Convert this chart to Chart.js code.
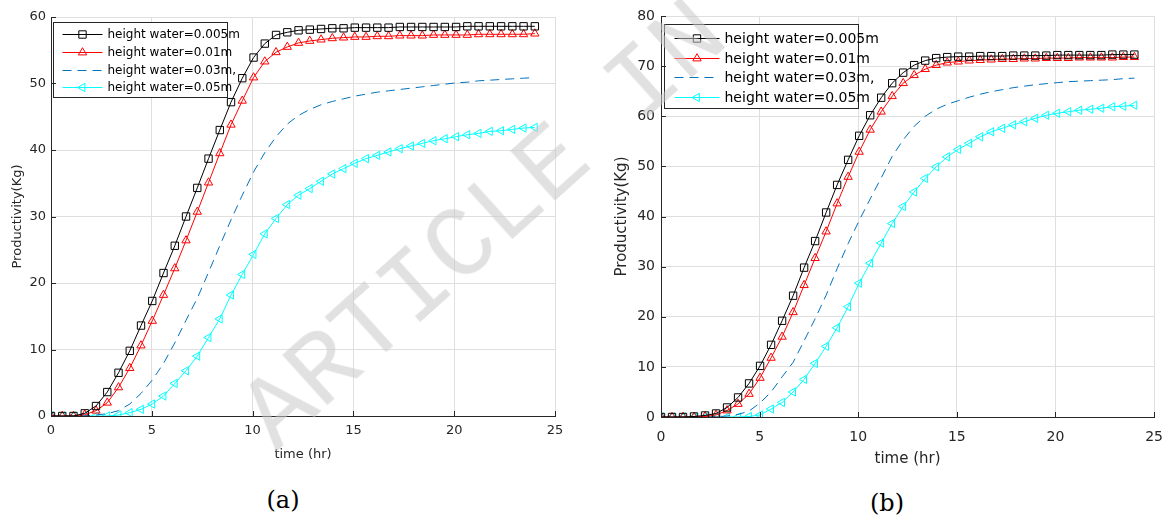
<!DOCTYPE html>
<html>
<head>
<meta charset="utf-8">
<script src="https://cdn.jsdelivr.net/npm/chart.js@4.4.1/dist/chart.umd.min.js"></script>
<style>
  html,body{margin:0;padding:0;background:#fff;}
  #wrap{position:relative;width:1175px;height:518px;overflow:hidden;background:#fff;}
  .cv{position:absolute;top:0;}
  .cap{position:absolute;font-family:"DejaVu Serif",serif;font-size:24px;color:#000;transform:translate(-50%,-50%);white-space:nowrap;}
  #wm{position:absolute;left:622px;top:104px;transform:translate(-50%,-50%) rotate(-42deg);font-family:"Liberation Mono","DejaVu Sans Mono",monospace;font-size:102px;line-height:1;color:rgba(200,200,200,0.55);white-space:nowrap;pointer-events:none;}
</style>
</head>
<body>
<div id="wrap">
  <canvas id="c1" class="cv" width="580" height="470" style="left:0px;width:580px;height:470px;"></canvas>
  <canvas id="c2" class="cv" width="585" height="475" style="left:590px;width:585px;height:475px;"></canvas>
  <div class="cap" style="left:283px;top:500px;">(a)</div>
  <div class="cap" style="left:887px;top:503px;">(b)</div>
  <div id="wm">ARTICLE IN PRESS</div>
</div>
<script>
// ---- data ----
const time = [0,0.558,1.116,1.674,2.233,2.791,3.349,3.907,4.465,5.023,5.581,6.140,6.698,7.256,7.814,8.372,8.930,9.488,10.047,10.605,11.163,11.721,12.279,12.837,13.395,13.953,14.512,15.070,15.628,16.186,16.744,17.302,17.860,18.419,18.977,19.535,20.093,20.651,21.209,21.767,22.326,22.884,23.442,24.000];
const seriesLabels = ["height water=0.005m","height water=0.01m","height water=0.03m,","height water=0.05m"];
const xTicks = [0,5,10,15,20,25];
const yTicksA = [0,10,20,30,40,50,60];
const yTicksB = [0,10,20,30,40,50,60,70,80];

// (a)
const aBlack = [0,0,0,0.4,1.5,3.6,6.5,9.8,13.6,17.3, 21.5,25.6,30.0,34.3,38.7,43.0,47.2,50.8,53.9,56.0, 57.3,57.7,58.0,58.1,58.2,58.3,58.3,58.4,58.4,58.4, 58.4,58.5,58.5,58.5,58.5,58.5,58.5,58.6,58.6,58.6, 58.6,58.6,58.6,58.6];
const aRed   = [0,0,0,0.2,0.8,2.0,4.3,7.2,10.6,14.3, 18.2,22.2,26.4,30.7,35.1,39.5,43.8,47.4,50.9,53.3, 54.7,55.5,56.1,56.4,56.6,56.8,56.9,57.0,57.0,57.1, 57.1,57.2,57.2,57.2,57.3,57.3,57.3,57.3,57.4,57.4, 57.4,57.4,57.4,57.5];
const aBlue  = [0,0,0,0.05,0.15,0.35,0.8,1.8,3.4,5.4, 7.9,11.0,14.4,17.7,21.6,25.6,29.5,33.2,36.7,39.6, 42.0,43.9,45.2,46.1,46.8,47.3,47.7,48.1,48.4,48.7, 48.9,49.1,49.3,49.5,49.7,49.9,50.1,50.2,50.4,50.5, 50.6,50.7,50.8,50.9];
const aCyan  = [0,0,0,0,0,0,0.15,0.5,1.0,1.8, 3.0,4.9,6.8,9.0,11.8,14.6,18.2,21.3,24.3,27.4, 29.7,31.8,33.2,34.2,35.3,36.4,37.2,38.0,38.7,39.2, 39.7,40.2,40.6,41.0,41.4,41.7,42.0,42.3,42.5,42.8, 42.9,43.1,43.3,43.4];
// (b)
const bBlack = [0,0,0,0.1,0.3,0.7,1.9,3.9,6.7,10.2, 14.4,19.2,24.2,29.8,35.1,40.8,46.3,51.3,56.1,60.2, 63.7,66.6,68.7,70.2,71.1,71.6,71.8,71.9,71.9,72.0, 72.0,72.0,72.1,72.1,72.1,72.1,72.2,72.2,72.2,72.2, 72.2,72.3,72.3,72.3];
const bRed   = [0,0,0,0,0.1,0.4,1.3,2.6,4.6,7.8, 11.8,16.0,20.9,26.3,31.7,37.0,42.6,47.9,52.9,57.3, 60.9,64.0,66.6,68.2,69.4,70.2,70.7,70.9,71.1,71.2, 71.3,71.4,71.4,71.5,71.5,71.6,71.6,71.6,71.7,71.7, 71.7,71.7,71.8,71.8];
const bBlue  = [0,0,0,0,0,0.05,0.2,0.5,1.2,2.8, 5.0,8.0,10.9,15.2,19.6,24.3,29.6,34.6,39.2,43.5, 47.7,52.0,55.3,58.0,60.0,61.4,62.4,63.1,63.8,64.4, 64.9,65.3,65.7,66.0,66.3,66.5,66.7,66.9,67.0,67.1, 67.2,67.3,67.5,67.6];
const bCyan  = [0,0,0,0,0,0,0,0,0.1,0.4, 1.6,2.9,5.0,7.5,10.7,14.1,17.8,22.0,26.7,30.7, 34.7,38.6,42.0,44.9,47.6,49.9,51.9,53.4,54.6,55.9, 56.9,57.6,58.3,58.9,59.6,60.2,60.6,60.9,61.2,61.4, 61.6,61.9,62.0,62.2];

const pts = arr => arr.map((v,i)=>({x:time[i], y:v}));

function makeDatasets(bk, rd, bl, cy){
  return [
    {label:seriesLabels[0], data:pts(bk), borderColor:'#000000', borderWidth:1, pointStyle:'rect', pointRadius:5.2, pointBorderColor:'#000000', pointBackgroundColor:'rgba(0,0,0,0)', pointBorderWidth:1, tension:0},
    {label:seriesLabels[1], data:pts(rd), borderColor:'#ff0000', borderWidth:1, pointStyle:'triangle', pointRadius:4.8, pointBorderColor:'#ff0000', pointBackgroundColor:'rgba(0,0,0,0)', pointBorderWidth:1, tension:0},
    {label:seriesLabels[2], data:pts(bl), borderColor:'#0072bd', borderWidth:1, borderDash:[9,6], pointRadius:0, tension:0},
    {label:seriesLabels[3], data:pts(cy), borderColor:'#00ffff', borderWidth:1, pointStyle:'triangle', pointRotation:-90, pointRadius:4.8, pointBorderColor:'#00ffff', pointBackgroundColor:'rgba(0,0,0,0)', pointBorderWidth:1, tension:0}
  ];
}

// inward ticks (MATLAB style)
const inTicks = {
  id:'inTicks',
  afterDraw(chart){
    const {ctx, chartArea:a, scales} = chart;
    ctx.save();
    ctx.strokeStyle = '#262626'; ctx.lineWidth = 1;
    ctx.beginPath();
    scales.x.ticks.forEach(t=>{
      const px = Math.round(scales.x.getPixelForValue(t.value))+0.5;
      ctx.moveTo(px, a.bottom); ctx.lineTo(px, a.bottom-5);
    });
    scales.y.ticks.forEach(t=>{
      const py = Math.round(scales.y.getPixelForValue(t.value))+0.5;
      ctx.moveTo(a.left, py); ctx.lineTo(a.left+5, py);
    });
    ctx.stroke();
    ctx.restore();
  }
};

function drawMarker(ctx, style, rot, r, x, y){
  ctx.beginPath();
  if (style==='rect'){
    const s = Math.SQRT1_2*r;
    ctx.rect(x-s, y-s, 2*s, 2*s);
  } else if (style==='triangle'){
    let rad = (rot||0)*Math.PI/180;
    for (let k=0;k<3;k++){
      const px = x + Math.sin(rad)*r, py = y - Math.cos(rad)*r;
      if (k===0) ctx.moveTo(px,py); else ctx.lineTo(px,py);
      rad += 2*Math.PI/3;
    }
    ctx.closePath();
  }
  ctx.stroke();
}

const boxLegend = {
  id:'boxLegend',
  afterDatasetsDraw(chart, args, o){
    const {ctx, chartArea:a} = chart;
    const x0 = Math.round(a.left + o.dx)+0.5, y0 = Math.round(a.top + o.dy)+0.5;
    ctx.save();
    ctx.fillStyle = '#ffffff'; ctx.fillRect(x0, y0, o.w, o.h);
    ctx.strokeStyle = '#262626'; ctx.lineWidth = 1; ctx.strokeRect(x0, y0, o.w, o.h);
    chart.data.datasets.forEach((ds,i)=>{
      const cy = Math.round(y0 + o.row0 + i*o.gap)+0.5;
      ctx.strokeStyle = ds.borderColor; ctx.lineWidth = 1;
      ctx.setLineDash(ds.borderDash||[]);
      ctx.beginPath(); ctx.moveTo(x0+o.l0, cy); ctx.lineTo(x0+o.l1, cy); ctx.stroke();
      ctx.setLineDash([]);
      if (ds.pointRadius>0) drawMarker(ctx, ds.pointStyle, ds.pointRotation, ds.pointRadius, x0+(o.l0+o.l1)/2, cy);
      ctx.fillStyle = '#000'; ctx.font = o.font + 'px "DejaVu Sans"'; ctx.textBaseline = 'middle'; ctx.textAlign='left';
      ctx.fillText(ds.label, x0+o.tx, cy+0.5);
    });
    ctx.restore();
  }
};

function makeChart(id, datasets, yMax, yTicks, cfg){
  const grid = {color:'#dfdfdf', lineWidth:1, drawTicks:false};
  return new Chart(document.getElementById(id), {
    type:'line',
    data:{datasets},
    options:{
      responsive:false, animation:false, devicePixelRatio:1,
      layout:{padding:cfg.pad},
      plugins:{legend:{display:false}, tooltip:{enabled:false}, boxLegend:cfg.legend},
      scales:{
        x:{type:'linear', min:0, max:25,
           afterBuildTicks: s => { s.ticks = xTicks.map(v=>({value:v})); },
           afterFit: s => { s.height = cfg.xh; },
           grid, border:{color:'#262626', width:1},
           ticks:{color:'#262626', font:{family:'DejaVu Sans', size:cfg.tick}, padding:cfg.xpad, maxRotation:0},
           title:{display:true, text:'time (hr)', color:'#262626', font:{family:'DejaVu Sans', size:cfg.lab}, padding:{top:0,bottom:cfg.xtp}}},
        y:{type:'linear', min:0, max:yMax,
           afterBuildTicks: s => { s.ticks = yTicks.map(v=>({value:v})); },
           afterFit: s => { s.width = cfg.yw; },
           grid, border:{color:'#262626', width:1},
           ticks:{color:'#262626', font:{family:'DejaVu Sans', size:cfg.tick}, padding:cfg.ypad},
           title:{display:true, text:'Productivity(Kg)', color:'#262626', font:{family:'DejaVu Sans', size:cfg.lab}, padding:{top:cfg.ytp,bottom:0}}}
      }
    },
    plugins:[inTicks, boxLegend]
  });
}

makeChart('c1', makeDatasets(aBlack,aRed,aBlue,aCyan), 60, yTicksA, {
  pad:{left:0, top:17, right:25, bottom:0}, xh:54, yw:51, tick:13, lab:13, xpad:7, ypad:5, xtp:8, ytp:10,
  legend:{dx:2, dy:5, w:174, h:75, row0:11.5, gap:17.8, l0:9, l1:49, tx:54, font:12}
});
makeChart('c2', makeDatasets(bBlack,bRed,bBlue,bCyan), 80, yTicksB, {
  pad:{left:0, top:16, right:15, bottom:0}, xh:58, yw:71, tick:14, lab:15, xpad:12, ypad:6, xtp:7, ytp:23,
  legend:{dx:3, dy:8, w:194, h:84, row0:13.3, gap:19.8, l0:10, l1:55, tx:60, font:14}
});
</script>
</body>
</html>
